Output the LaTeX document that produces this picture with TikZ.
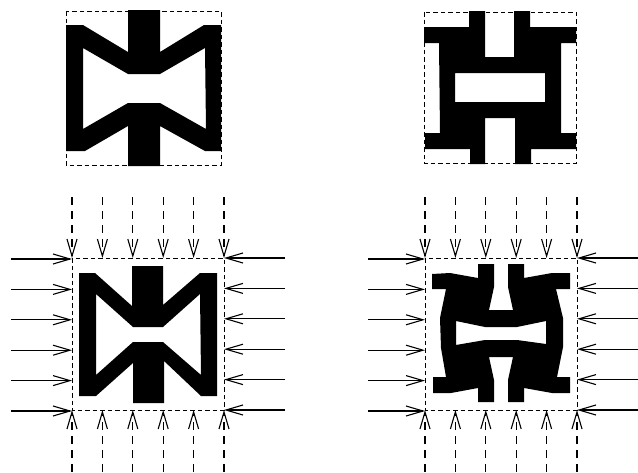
\documentclass[tikz,border=0pt]{standalone}
\usetikzlibrary{arrows.meta}

\begin{document}
\begin{tikzpicture}[x=1pt, y=-1pt, frame box/.style={dash pattern=on 4.5pt off 3pt, line width=0.9pt}, part shape/.style={fill=black, even odd rule}, load arrow/.style={-{Straight Barb[length=17pt, width=10pt]}, line width=1.1pt}, load dash/.style={load arrow, dash pattern=on 8pt off 6pt}]

    \useasboundingbox (0, 0) rectangle (638, 472);

    % =========================================================================
    % Top row
    % =========================================================================
    \draw[frame box] (66, 11) rectangle (221, 165);
    \fill[part shape] (66, 25) -- (83, 25) -- (128, 52) -- (128, 10) -- (160, 10) -- (160, 52) -- (204, 25) -- (221, 25) -- (221, 151) -- (205, 151) -- (160, 126) -- (160, 166) -- (128, 166) -- (128, 126) -- (85, 151) -- (66, 151) -- cycle
        (83, 48) -- (128, 74) -- (160, 74) -- (205, 48) -- (206, 129) -- (160, 103) -- (128, 103) -- (83, 129) -- cycle;

    \draw[frame box] (424, 12) rectangle (576, 163);
    \fill[part shape] (424, 27) -- (469, 27) -- (469, 11) -- (485, 11) -- (485, 57) -- (514, 57) -- (514, 11) -- (530, 11) -- (530, 27) -- (576, 27) -- (576, 43) -- (561, 43) -- (561, 133) -- (576, 133) -- (576, 149) -- (531, 149) -- (531, 164) -- (515, 164) -- (515, 118) -- (485, 118) -- (485, 164) -- (470, 164) -- (470, 149) -- (425, 149) -- (425, 133) -- (440, 133) -- (439, 43) -- (424, 43) -- cycle
        (455, 73) -- (545, 73) -- (545, 102) -- (455, 102) -- cycle;

    % =========================================================================
    % Bottom row: frames and arrows
    % =========================================================================
    \foreach \px/\lx/\name in {0/11/a, 353/15/b} {
        \begin{scope}[shift={(\px, 0)}]
            \draw[frame box] (72, 258) rectangle (224, 410);
            \foreach \i in {0, ..., 5} {
                \coordinate (\name top\i) at (72 + \i * 30.4, 197);
                \coordinate (\name topend\i) at (72 + \i * 30.4, 258);
                \coordinate (\name bot\i) at (72 + \i * 30.4, 472);
                \coordinate (\name botend\i) at (72 + \i * 30.4, 410);
                \coordinate (\name left\i) at (\lx, 259 + \i * 30.4);
                \coordinate (\name leftend\i) at (72, 259 + \i * 30.4);
                \coordinate (\name right\i) at (285, 258 + \i * 30.4);
                \coordinate (\name rightend\i) at (224, 258 + \i * 30.4);
                \draw[load dash] (\name top\i) -- (\name topend\i);
                \draw[load dash] (\name bot\i) -- (\name botend\i);
                \draw[load arrow] (\name left\i) -- (\name leftend\i);
                \draw[load arrow] (\name right\i) -- (\name rightend\i);
            }
        \end{scope}
    }

    % Deformed parts
    \fill[part shape] (79, 273) -- (95, 273) -- (132, 306) -- (132, 266) -- (163, 266) -- (163, 305) -- (200, 273) -- (217, 273) -- (217, 396) -- (201, 396) -- (164, 361) -- (164, 403) -- (133, 403) -- (133, 363) -- (96, 396) -- (79, 396) -- cycle
        (96, 294) -- (133, 327) -- (163, 327) -- (200, 294) -- (201, 375) -- (163, 342) -- (133, 342) -- (96, 375) -- cycle;

    \fill[part shape] (432, 274) -- (450, 273) -- (478, 278) -- (478, 264) -- (494, 264) -- (494, 287) -- (489, 310) -- (513, 310) -- (508, 287) -- (508, 264) -- (524, 264) -- (524, 278) -- (552, 273) -- (570, 273) -- (570, 289) -- (556, 289) -- (563, 318) -- (563, 347) -- (557, 377) -- (570, 377) -- (570, 393) -- (552, 393) -- (524, 388) -- (524, 402) -- (508, 402) -- (508, 380) -- (513, 357) -- (489, 357) -- (494, 380) -- (494, 402) -- (478, 402) -- (478, 388) -- (451, 393) -- (433, 393) -- (433, 377) -- (446, 377) -- (441, 348) -- (440, 318) -- (446, 289) -- (432, 289) -- cycle
        (456, 321) -- (485, 327) -- (517, 327) -- (546, 321) -- (546, 344) -- (517, 340) -- (485, 340) -- (456, 345) -- cycle;

\end{tikzpicture}
\end{document}
